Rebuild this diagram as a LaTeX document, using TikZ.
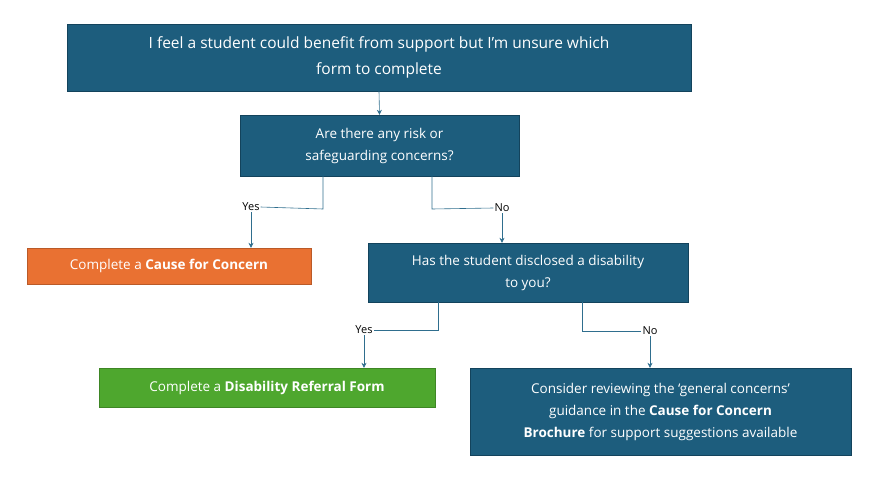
\documentclass[tikz,border=0pt]{standalone}
\usepackage{fontspec}
\setmainfont{Open Sans}
\usetikzlibrary{arrows.meta}
\definecolor{boxblue}{HTML}{1D5D7D}
\definecolor{boxedge}{HTML}{13435C}
\definecolor{caseorange}{HTML}{E97132}
\definecolor{casegreen}{HTML}{4EA72E}
\definecolor{linkblue}{HTML}{2F6E8E}
\tikzset{
  qbox/.style={draw=boxedge, fill=boxblue, text=white, align=center, inner sep=0pt},
  obox/.style={draw=caseorange!80!black, fill=caseorange, text=white, inner sep=0pt},
  gbox/.style={draw=casegreen!80!black, fill=casegreen, text=white, inner sep=0pt},
  link/.style={draw=linkblue, semithick},
  tip/.style={link, -{Stealth[length=5pt,width=5pt]}},
  lab/.style={font=\fontsize{11}{13}\selectfont, inner sep=1pt}
}
\begin{document}
\begin{tikzpicture}[x=1pt,y=-1pt]
\useasboundingbox (0,0) rectangle (885,484);
% question boxes
\node[qbox, minimum width=624, minimum height=67, font=\fontsize{15.5}{26}\selectfont] (start) at (379,57.5)
  {I feel a student could benefit from support but I’m unsure which\\form to complete};
\node[qbox, minimum width=279, minimum height=61, font=\fontsize{13.5}{22}\selectfont] (risk) at (379.5,145.5)
  {Are there any risk or\\safeguarding concerns?};
\node[obox, minimum width=284, minimum height=36, font=\fontsize{13.5}{16}\selectfont] (cause) at (169,266)
  {Complete a \textbf{Cause for Concern}};
\node[qbox, minimum width=320, minimum height=59, font=\fontsize{13.5}{22}\selectfont] (disab) at (528,272.5)
  {Has the student disclosed a disability\\to you?};
\node[gbox, minimum width=336, minimum height=39, font=\fontsize{13.5}{16}\selectfont] (referral) at (267,387.5)
  {Complete a \textbf{Disability Referral Form}};
\node[qbox, minimum width=381, minimum height=87, font=\fontsize{13.5}{22}\selectfont] (brochure) at (660.5,411.5)
  {Consider reviewing the ‘general concerns’\\guidance in the \textbf{Cause for Concern}\\\textbf{Brochure} for support suggestions available};
% connectors
\draw[tip] (start.south) -- (risk.north);
\node[lab] (yes1) at (251,207) {Yes};
\node[lab] (no1) at (502,208) {No};
\node[lab] (yes2) at (364,330) {Yes};
\node[lab] (no2) at (650,331) {No};
\draw[link] (323,176) -- (323,209) -- (yes1.east);
\draw[tip] (yes1.south) -- (cause.north -| yes1.south);
\draw[link] (432,176) -- (432,209) -- (no1.west);
\draw[tip] (no1.south) -- (disab.north -| no1.south);
\draw[link] (438,302) -- (438,330) -- (yes2.east);
\draw[tip] (yes2.south) -- (referral.north -| yes2.south);
\draw[link] (582,302) -- (582,331) -- (no2.west);
\draw[tip] (no2.south) -- (brochure.north -| no2.south);
\end{tikzpicture}
\end{document}
